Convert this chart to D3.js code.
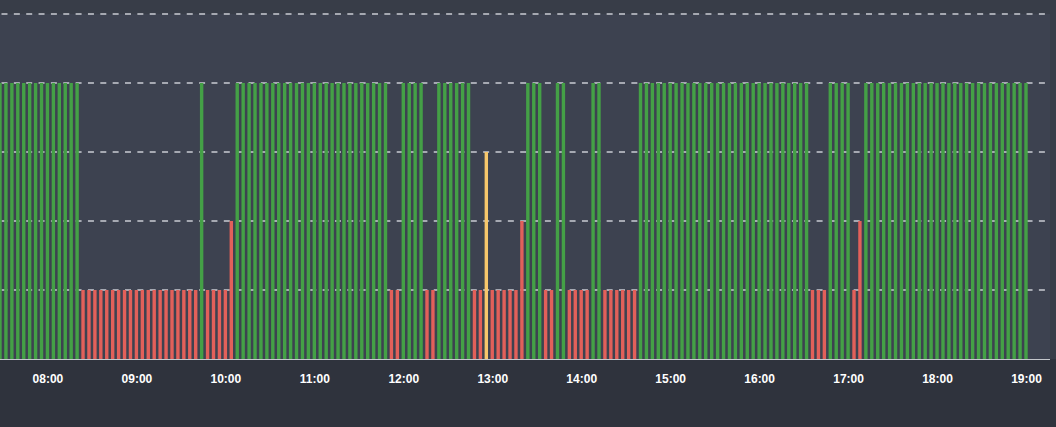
<!DOCTYPE html>
<html>
<head>
<meta charset="utf-8">
<script src="https://cdn.jsdelivr.net/npm/d3@7"></script>
<style>
  html, body { margin: 0; padding: 0; background: #2f333d; }
  svg { display: block; }
</style>
</head>
<body>
<svg id="chart" width="1056" height="427"></svg>
<script>
// ---- data ----
const startTime = "07:28";          // time of the first sample
const stepMinutes = 4;               // sampling interval
const endTime = "19:00";             // time of the last sample
// status value of each sample: 4 = ok (green), 3 = warning (orange), 1 / 2 = error (red)
const values = [
  4,4,4,4,4,4,4,4,4,4,4,4,4,4,
  1,1,1,1,1,1,1,1,1,1,1,1,1,1,1,1,1,1,1,1,
  4,
  1,1,1,1,
  2,
  4,4,4,4,4,4,4,4,4,4,4,4,4,4,4,4,4,4,4,4,4,4,4,4,4,4,
  1,1,
  4,4,4,4,
  1,1,
  4,4,4,4,4,4,
  1,1,
  3,
  1,1,1,1,1,
  2,
  4,4,4,
  1,1,
  4,4,
  1,1,1,1,
  4,4,
  1,1,1,1,1,1,
  4,4,4,4,4,4,4,4,4,4,4,4,4,4,4,4,4,4,4,4,4,4,4,4,4,4,4,4,4,
  1,1,1,
  4,4,4,4,
  1,
  2,
  4,4,4,4,4,4,4,4,4,4,4,4,4,4,4,4,4,4,4,4,4,4,4,4,4,4,4,4
];
const yTicks = [1, 2, 3, 4, 5];
const statusColors = { 1: "#e2605a", 2: "#e2605a", 3: "#f7c76b", 4: "#44a046" };

// ---- build ----
const parse = d3.timeParse("%Y-%m-%d %H:%M");
const t0 = parse("2024-01-01 " + startTime);
const t1 = parse("2024-01-01 " + endTime);
const samples = values.map((v, i) => ({ t: d3.timeMinute.offset(t0, i * stepMinutes), v }));

const W = 1056, H = 427;
const plotRight = 1050, plotTop = 14, plotBottom = 359;

const svg = d3.select("#chart");

const x = d3.scaleTime().domain([t0, t1]).range([0, 1026]);
const y = d3.scaleLinear().domain([0, 5]).range([plotBottom, plotTop]);

// backgrounds
svg.append("rect").attr("x", 0).attr("y", 0).attr("width", W).attr("height", H).attr("fill", "#2f333d");
svg.append("rect").attr("x", 0).attr("y", 0).attr("width", W).attr("height", plotBottom).attr("fill", "#383d48");
svg.append("rect").attr("x", 0).attr("y", plotTop).attr("width", plotRight).attr("height", plotBottom - plotTop).attr("fill", "#3d4250");

// dashed grid lines
svg.append("g").selectAll("line").data(yTicks).join("line")
  .attr("x1", 0).attr("x2", plotRight - 4)
  .attr("y1", d => y(d)).attr("y2", d => y(d))
  .attr("stroke", "#c9ccd2")
  .attr("stroke-width", 1.5)
  .attr("stroke-dasharray", "6,6.35")
  .attr("stroke-dashoffset", -1.5);

// bars
const barW = 3.4;
svg.append("g").selectAll("rect").data(samples).join("rect")
  .attr("x", d => x(d.t) - barW / 2)
  .attr("width", barW)
  .attr("y", d => y(d.v))
  .attr("height", d => y(0) - y(d.v))
  .attr("fill", d => statusColors[d.v]);

// baseline
svg.append("line")
  .attr("x1", 0).attr("x2", plotRight)
  .attr("y1", y(0) + 0.5).attr("y2", y(0) + 0.5)
  .attr("stroke", "#c4c7cc").attr("stroke-width", 1.2);

// x axis
const xAxis = d3.axisBottom(x)
  .ticks(d3.timeHour.every(1))
  .tickFormat(d3.timeFormat("%H:%M"))
  .tickSize(0)
  .tickPadding(15);

const gx = svg.append("g").attr("transform", `translate(0,${plotBottom})`).call(xAxis);
gx.select(".domain").remove();
gx.selectAll("text")
  .attr("fill", "#ffffff")
  .style("font-family", "'Liberation Sans', Arial, sans-serif")
  .style("font-size", "12px")
  .style("font-weight", "bold");
</script>
</body>
</html>
